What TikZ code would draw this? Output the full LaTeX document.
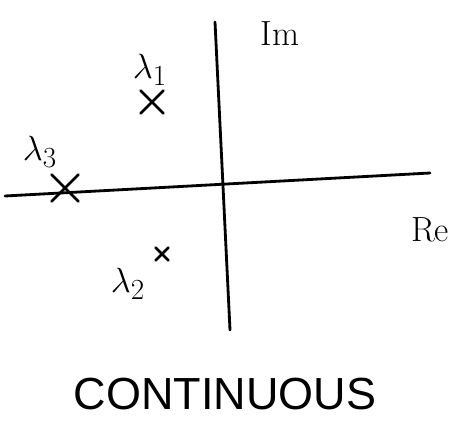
\documentclass[tikz,border=0pt]{standalone}
\usepackage{fontspec}
\setsansfont{Liberation Sans}
\usepackage{tikz}
\usetikzlibrary{shapes.misc}

\begin{document}
\begin{tikzpicture}[line width=2pt, line cap=round,
  every node/.style={font=\Huge},
  pole/.style={cross out, draw, line width=2pt, inner sep=0pt}]
  \useasboundingbox (0,0) rectangle (11.4,10.7);

  % Axes
  \coordinate (imtop) at (5.375,10.15);
  \coordinate (imbot) at (5.75,2.45);
  \coordinate (releft) at (0.125,5.8);
  \coordinate (reright) at (10.75,6.375);
  \draw (imtop) -- (imbot);
  \draw (releft) -- (reright);
  \node (imlbl) at (7.0,9.85) {Im};
  \node (relbl) at (10.75,4.95) {Re};

  % Poles
  \node[pole, minimum size=0.5cm] (p1) at (3.8,8.15) {};
  \node (l1) at (3.75,8.95) {$\lambda_1$};
  \node[pole, minimum size=0.6cm] (p3) at (1.625,6.0) {};
  \node (l3) at (1.0,6.9) {$\lambda_3$};
  \node[pole, minimum size=0.25cm] (p2) at (4.05,4.35) {};
  \node (l2) at (3.2,3.6) {$\lambda_2$};

  % Caption
  \node[font=\sffamily\fontsize{32}{38}\selectfont] (cap) at (5.625,0.85) {CONTINUOUS};
\end{tikzpicture}
\end{document}
